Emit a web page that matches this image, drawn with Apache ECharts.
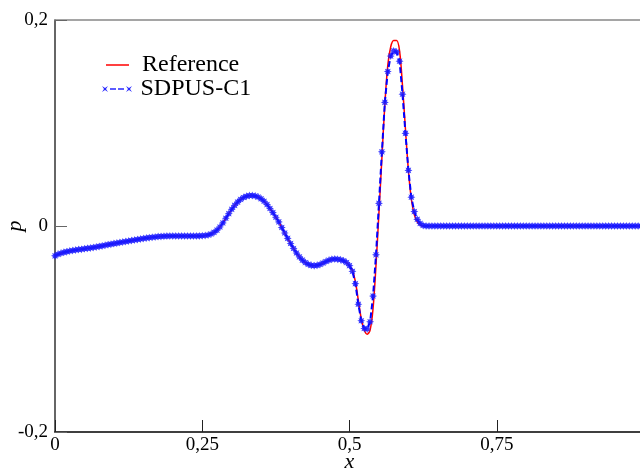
<!DOCTYPE html>
<html>
<head>
<meta charset="utf-8">
<script src="https://cdn.jsdelivr.net/npm/echarts@6/dist/echarts.min.js"></script>
<style>
  html, body { margin: 0; padding: 0; background: #fff; }
  #chart { width: 640px; height: 470px; }
</style>
</head>
<body>
<div id="chart"></div>
<script>
// Pressure profile p(x): reference solution vs. SDPUS-C1 scheme, uniform mesh h = 0.005
const meshStep = 0.005;

const sdpusP = [
  -0.0290, -0.0275, -0.0265, -0.0256, -0.0249, -0.0243, -0.0238, -0.0233, -0.0229, -0.0225,
  -0.0221, -0.0217, -0.0213, -0.0208, -0.0203, -0.0198, -0.0193, -0.0187, -0.0181, -0.0176,
  -0.0171, -0.0166, -0.0161, -0.0156, -0.0151, -0.0146, -0.0141, -0.0136, -0.0131, -0.0126,
  -0.0122, -0.0117, -0.0113, -0.0109, -0.0106, -0.0103, -0.0101, -0.0099, -0.0098, -0.0097,
  -0.0097, -0.0097, -0.0097, -0.0097, -0.0097, -0.0097, -0.0097, -0.0097, -0.0097, -0.0096,
  -0.0095, -0.0092, -0.0087, -0.0078, -0.0062, -0.0040, -0.0010, 0.0030, 0.0075, 0.0120,
  0.0162, 0.0200, 0.0232, 0.0258, 0.0277, 0.0289, 0.0295, 0.0296, 0.0292, 0.0281,
  0.0264, 0.0240, 0.0208, 0.0170, 0.0130, 0.0085, 0.0040, -0.0015, -0.0068, -0.0120,
  -0.0170, -0.0218, -0.0262, -0.0300, -0.0331, -0.0355, -0.0372, -0.0382, -0.0385, -0.0382,
  -0.0373, -0.0360, -0.0345, -0.0332, -0.0323, -0.0320, -0.0322, -0.0328, -0.0338, -0.0355,
  -0.0385, -0.0440, -0.0560, -0.0760, -0.0920, -0.0995, -0.1000, -0.0930, -0.0680, -0.0280,
  0.0220, 0.0720, 0.1200, 0.1500, 0.1650, 0.1700, 0.1690, 0.1600, 0.1280, 0.0900,
  0.0540, 0.0280, 0.0140, 0.0065, 0.0025, 0.0005, 0, 0, 0, 0,
  0, 0, 0, 0, 0, 0, 0, 0, 0, 0,
  0, 0, 0, 0, 0, 0, 0, 0, 0, 0,
  0, 0, 0, 0, 0, 0, 0, 0, 0, 0,
  0, 0, 0, 0, 0, 0, 0, 0, 0, 0,
  0, 0, 0, 0, 0, 0, 0, 0, 0, 0,
  0, 0, 0, 0, 0, 0, 0, 0, 0, 0,
  0, 0, 0, 0, 0, 0, 0, 0, 0, 0,
  0
];

const referenceP = [
  -0.0290, -0.0275, -0.0265, -0.0256, -0.0249, -0.0243, -0.0238, -0.0233, -0.0229, -0.0225,
  -0.0221, -0.0217, -0.0213, -0.0208, -0.0203, -0.0198, -0.0193, -0.0187, -0.0181, -0.0176,
  -0.0171, -0.0166, -0.0161, -0.0156, -0.0151, -0.0146, -0.0141, -0.0136, -0.0131, -0.0126,
  -0.0122, -0.0117, -0.0113, -0.0109, -0.0106, -0.0103, -0.0101, -0.0099, -0.0098, -0.0097,
  -0.0097, -0.0097, -0.0097, -0.0097, -0.0097, -0.0097, -0.0097, -0.0097, -0.0097, -0.0096,
  -0.0095, -0.0092, -0.0087, -0.0078, -0.0062, -0.0040, -0.0010, 0.0030, 0.0075, 0.0120,
  0.0162, 0.0200, 0.0232, 0.0258, 0.0277, 0.0289, 0.0295, 0.0296, 0.0292, 0.0281,
  0.0264, 0.0240, 0.0208, 0.0170, 0.0130, 0.0085, 0.0040, -0.0015, -0.0068, -0.0120,
  -0.0170, -0.0218, -0.0262, -0.0300, -0.0331, -0.0355, -0.0372, -0.0382, -0.0385, -0.0382,
  -0.0373, -0.0360, -0.0345, -0.0332, -0.0323, -0.0320, -0.0322, -0.0328, -0.0338, -0.0355,
  -0.0385, -0.0430, -0.0540, -0.0720, -0.0900, -0.1010, -0.1050, -0.1010, -0.0800, -0.0380,
  0.0130, 0.0660, 0.1180, 0.1560, 0.1740, 0.1800, 0.1800, 0.1700, 0.1360, 0.0940,
  0.0540, 0.0260, 0.0110, 0.0040, 0.0010, 0.0000, 0, 0, 0, 0,
  0, 0, 0, 0, 0, 0, 0, 0, 0, 0,
  0, 0, 0, 0, 0, 0, 0, 0, 0, 0,
  0, 0, 0, 0, 0, 0, 0, 0, 0, 0,
  0, 0, 0, 0, 0, 0, 0, 0, 0, 0,
  0, 0, 0, 0, 0, 0, 0, 0, 0, 0,
  0, 0, 0, 0, 0, 0, 0, 0, 0, 0,
  0, 0, 0, 0, 0, 0, 0, 0, 0, 0,
  0
];

const xTickValues = [0, 0.25, 0.5, 0.75, 1];
const xTickLabels = ['0', '0,25', '0,5', '0,75', '1'];
const yTickValues = [-0.2, 0, 0.2];
const yTickLabels = ['-0,2', '0', '0,2'];

const seriesNames = ['Reference', 'SDPUS-C1'];

// mesh nodes x_i = i*h paired with the nodal values
const toPairs = (vals) => vals.map((v, i) => [+(i * meshStep).toFixed(4), v]);

function tickLabel(values, labels) {
  return (v) => {
    for (let k = 0; k < values.length; k++) {
      if (Math.abs(values[k] - v) < 1e-9) return labels[k];
    }
    return '';
  };
}

// eight-pointed asterisk marker
function starPath(points, outer, inner) {
  let d = '';
  for (let k = 0; k < points * 2; k++) {
    const r = k % 2 === 0 ? outer : inner;
    const a = Math.PI * k / points - Math.PI / 2;
    const px = (r * Math.cos(a)).toFixed(2);
    const py = (r * Math.sin(a)).toFixed(2);
    d += (k === 0 ? 'M' : 'L') + px + ',' + py + ' ';
  }
  return 'path://' + d + 'Z';
}
const starSymbol = starPath(8, 10, 5.5);

// legend glyphs
const legendLineIcon = 'path://M0,0 H23 V1.5 H0 Z';
const legendDashIcon = 'path://' +
  'M0,0 L2,3 L0,6 L3,4 L6,6 L4,3 L6,0 L3,2 Z ' +
  'M8,2.2 h6 v1.6 h-6 Z M16,2.2 h6 v1.6 h-6 Z ' +
  'M24,0 L26,3 L24,6 L27,4 L30,6 L28,3 L30,0 L27,2 Z';

const serif = 'Liberation Serif, Times New Roman, serif';

const chart = echarts.init(document.getElementById('chart'), null, { renderer: 'canvas' });

chart.setOption({
  animation: false,
  backgroundColor: '#ffffff',
  grid: { left: 55, top: 20, width: 589, height: 412, containLabel: false, outerBoundsMode: 'none' },
  legend: [
    {
      data: [{ name: seriesNames[0], icon: legendLineIcon, itemStyle: { color: '#ff0000' } }],
      left: 106, top: 53, padding: 0,
      itemWidth: 23, itemHeight: 1.5,
      textStyle: { fontFamily: serif, fontSize: 24, color: '#000', padding: [0, 0, 0, 8] }
    },
    {
      data: [{ name: seriesNames[1], icon: legendDashIcon, itemStyle: { color: '#0000ff' } }],
      left: 102, top: 77, padding: 0,
      itemWidth: 31, itemHeight: 6,
      textStyle: { fontFamily: serif, fontSize: 24, color: '#000', padding: [0, 0, 0, 3] }
    }
  ],
  xAxis: [
    {
      type: 'value', position: 'bottom',
      min: 0, max: 1, interval: 0.25,
      name: 'x', nameLocation: 'middle', nameGap: 19, nameMoveOverlap: false,
      nameTextStyle: { fontFamily: serif, fontSize: 22, fontStyle: 'italic', color: '#000' },
      axisLine: { show: true, onZero: false, lineStyle: { color: '#000', width: 1.5 } },
      axisTick: { show: true, inside: true, length: 12, lineStyle: { color: '#222', width: 1 } },
      axisLabel: { formatter: tickLabel(xTickValues, xTickLabels), fontFamily: serif, fontSize: 19, color: '#000', margin: 4, showMaxLabel: false },
      splitLine: { show: false }
    },
    {
      type: 'value', position: 'top',
      min: 0, max: 1,
      axisLine: { show: true, onZero: false, lineStyle: { color: '#888', width: 1.5 } },
      axisTick: { show: false }, axisLabel: { show: false }, splitLine: { show: false }
    }
  ],
  yAxis: {
    type: 'value',
    min: -0.2, max: 0.2, interval: 0.2,
    name: 'p', nameLocation: 'middle', nameGap: 29, nameRotate: 90, nameMoveOverlap: false,
    nameTextStyle: { fontFamily: serif, fontSize: 22, fontStyle: 'italic', color: '#000' },
    axisLine: { show: true, onZero: false, lineStyle: { color: '#333', width: 1.5 } },
    axisTick: { show: true, inside: true, length: 12, lineStyle: { color: '#666', width: 1 } },
    axisLabel: { formatter: tickLabel(yTickValues, yTickLabels), fontFamily: serif, fontSize: 19, color: '#000', margin: 7 },
    splitLine: { show: false }
  },
  series: [
    {
      name: seriesNames[0],
      type: 'line',
      data: toPairs(referenceP),
      smooth: 0.35,
      symbol: 'none',
      showSymbol: false,
      lineStyle: { color: '#ff0000', width: 1.5 },
      itemStyle: { color: '#ff0000' },
      z: 2
    },
    {
      name: seriesNames[1],
      type: 'line',
      data: toPairs(sdpusP),
      showSymbol: true,
      showAllSymbol: true,
      symbol: starSymbol,
      symbolSize: 8,
      lineStyle: { color: '#0000ff', width: 2, type: [6, 3] },
      itemStyle: { color: '#1a1aff', opacity: 0.85 },
      z: 3
    }
  ]
});
</script>
</body>
</html>
